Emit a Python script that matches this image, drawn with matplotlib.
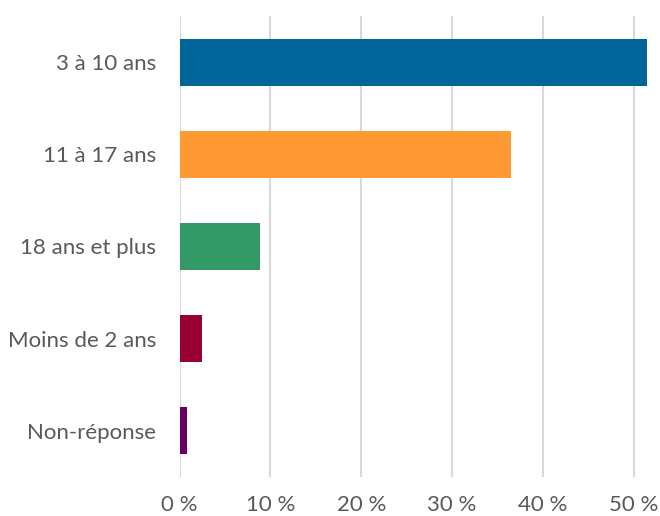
import matplotlib.pyplot as plt

categories = ['3 à 10 ans', '11 à 17 ans', '18 ans et plus', 'Moins de 2 ans', 'Non-réponse']
values = [51.4, 36.5, 8.9, 2.5, 0.8]
colors = ['#006699', '#FF9933', '#339966', '#990033', '#660066']
xticks = [0, 10, 20, 30, 40, 50]
xticklabels = ['0 %', '10 %', '20 %', '30 %', '40 %', '50 %']

plt.rcParams['font.family'] = ['Lato', 'DejaVu Sans']

fig = plt.figure(figsize=(6.6, 5.16), dpi=100)
ax = fig.add_axes([179.5 / 660, 1 - 477 / 516, (656.7 - 179.5) / 660, (477 - 16) / 516])

ypos = list(range(len(categories)))
ax.barh(ypos, values, height=0.51, color=colors, zorder=2)

ax.set_ylim(len(categories) - 0.5, -0.5)
ax.set_xlim(0, 52.5)
ax.set_yticks(ypos)
ax.set_yticklabels(categories)
ax.set_xticks(xticks)
ax.set_xticklabels(xticklabels)

ax.grid(axis='x', color='#D9D9D9', linewidth=1.5, zorder=0)
for s in ax.spines.values():
    s.set_visible(False)
ax.tick_params(length=0, labelsize=16, colors='#595959')
ax.tick_params(axis='y', pad=17)
ax.tick_params(axis='x', pad=13)

fig.savefig('out.png', dpi=100)
